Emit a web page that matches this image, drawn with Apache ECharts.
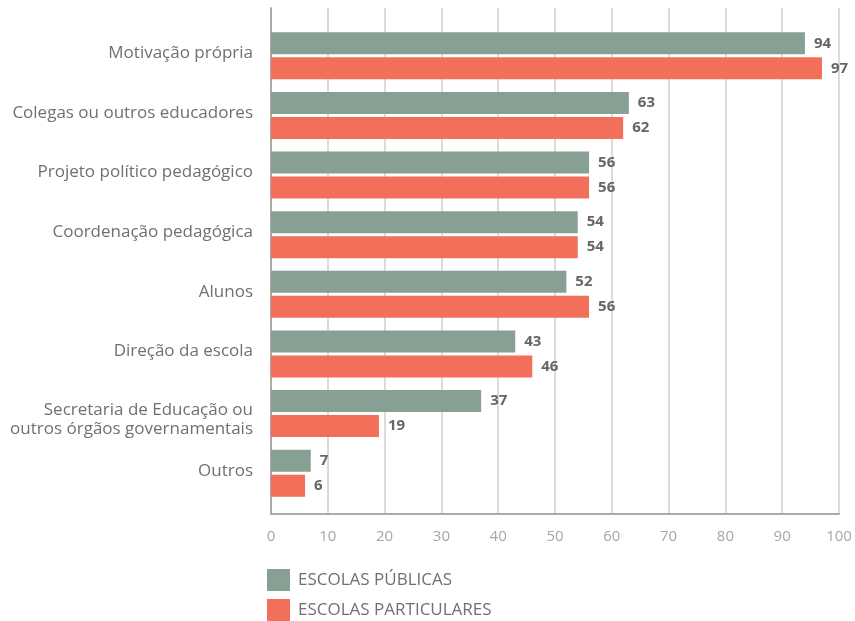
<!DOCTYPE html>
<html>
<head>
<meta charset="utf-8">
<script src="https://cdn.jsdelivr.net/npm/echarts@6/dist/echarts.min.js"></script>
<style>
  html, body { margin: 0; padding: 0; background: #fff; }
  #chart { width: 855px; height: 621px; }
</style>
</head>
<body>
<div id="chart"></div>
<script>
// Categories (top to bottom)
const categories = [
  'Motivação própria',
  'Colegas ou outros educadores',
  'Projeto político pedagógico',
  'Coordenação pedagógica',
  'Alunos',
  'Direção da escola',
  'Secretaria de Educação ou\noutros órgãos governamentais',
  'Outros'
];
const publicas = [94, 63, 56, 54, 52, 43, 37, 7];
const particulares = [97, 62, 56, 54, 56, 46, 19, 6];
const xTicks = [0, 10, 20, 30, 40, 50, 60, 70, 80, 90, 100];
const seriesNames = ['ESCOLAS PÚBLICAS', 'ESCOLAS PARTICULARES'];

const FONT = '"Open Sans"';
const chart = echarts.init(document.getElementById('chart'), null, { renderer: 'canvas' });

const labelText = { color: '#707070', fontSize: 17, fontFamily: FONT, align: 'right' };

// single-line labels sit slightly high in their band; the two-line label is
// pushed down a little by an empty spacer line above it
function categoryLabel(value) {
  const lines = value.split('\n');
  if (lines.length === 1) return '{one|' + value + '}';
  return '{sp| }\n' + lines.map(function (l) { return '{multi|' + l + '}'; }).join('\n');
}

const valueLabel = {
  show: true,
  position: 'right',
  distance: 9,
  color: '#666',
  fontFamily: FONT,
  fontWeight: 'bold',
  fontSize: 15
};

function legendAt(top, name) {
  return {
    orient: 'vertical',
    left: 267, top: top,
    padding: 0,
    itemWidth: 23, itemHeight: 22,
    icon: 'rect',
    selectedMode: false,
    textStyle: { color: '#707070', fontSize: 17, fontFamily: FONT, padding: [0, 0, 0, 3] },
    data: [name]
  };
}

chart.setOption({
  animation: false,
  backgroundColor: '#fff',
  textStyle: { fontFamily: FONT },
  grid: [
    // frame: gridlines, bottom axis and left rule
    { left: 271, right: 16, top: 8, bottom: 107 },
    // bar area
    { left: 271, right: 16, top: 26, bottom: 118 }
  ],
  xAxis: [
    {
      gridIndex: 0, type: 'value', min: xTicks[0], max: xTicks[xTicks.length - 1], interval: 10,
      axisLine: { show: true, lineStyle: { color: '#aaa', width: 2 } },
      axisTick: { show: false },
      splitLine: { show: true, lineStyle: { color: '#cfcfcf', width: 1.5 } },
      axisLabel: { color: '#a6a6a6', fontSize: 15, margin: 15, fontFamily: FONT }
    },
    {
      gridIndex: 1, type: 'value', min: 0, max: 100, show: false
    }
  ],
  yAxis: [
    {
      gridIndex: 0, type: 'value', min: 0, max: 1,
      axisLine: { show: true, lineStyle: { color: '#aaa', width: 2 } },
      axisTick: { show: false }, axisLabel: { show: false }, splitLine: { show: false }
    },
    {
      gridIndex: 1, type: 'category', data: categories, inverse: true,
      axisLine: { show: false }, axisTick: { show: false },
      axisLabel: {
        color: '#707070', fontSize: 17, margin: 18, fontFamily: FONT, align: 'right',
        formatter: categoryLabel,
        rich: {
          one: Object.assign({ lineHeight: 20, padding: [0, 0, 5, 0] }, labelText),
          sp: Object.assign({ lineHeight: 12, height: 12 }, labelText, { fontSize: 8 }),
          multi: Object.assign({ lineHeight: 19 }, labelText)
        }
      }
    }
  ],
  legend: [legendAt(569, seriesNames[0]), legendAt(599, seriesNames[1])],
  series: [
    {
      name: seriesNames[0], type: 'bar', xAxisIndex: 1, yAxisIndex: 1,
      data: publicas, barWidth: 22, barGap: '14%',
      itemStyle: { color: '#88a093' },
      label: valueLabel
    },
    {
      name: seriesNames[1], type: 'bar', xAxisIndex: 1, yAxisIndex: 1,
      data: particulares, barWidth: 22,
      itemStyle: { color: '#f26f5a' },
      label: valueLabel
    }
  ]
});
</script>
</body>
</html>
